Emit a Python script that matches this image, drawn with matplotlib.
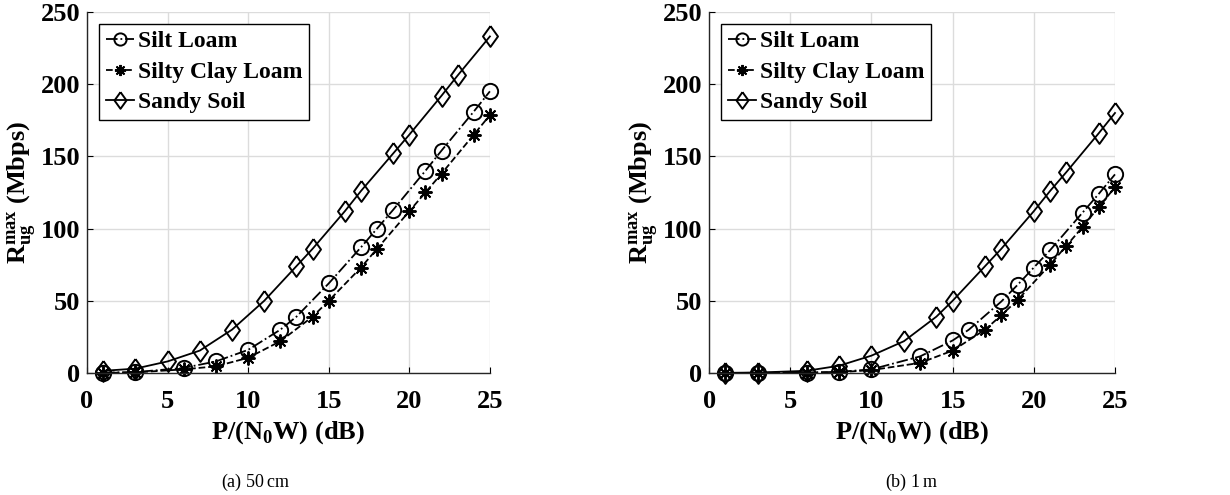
import matplotlib
matplotlib.use("Agg")
import matplotlib.pyplot as plt

plt.rcParams["font.family"] = ["Liberation Serif", "DejaVu Serif"]
plt.rcParams["mathtext.fontset"] = "custom"
plt.rcParams["mathtext.rm"] = "Liberation Serif"
plt.rcParams["mathtext.bf"] = "Liberation Serif:bold"

# (a) 50 cm
silt_x_a = [1, 3, 6, 8, 10, 12, 13, 15, 17, 18, 19, 21, 22, 24, 25]
silt_y_a = [0.2, 0.6, 3.5, 8, 16, 30, 39, 62, 87, 100, 113, 140, 154, 181, 195]
clay_x_a = [1, 3, 6, 8, 10, 12, 14, 15, 17, 18, 20, 21, 22, 24, 25]
clay_y_a = [0.1, 0.4, 2.5, 4.6, 10.5, 22, 39, 50, 73, 86, 112, 125, 138, 165, 178.5]
sand_x_a = [1, 3, 5, 7, 9, 11, 13, 14, 16, 17, 19, 20, 22, 23, 25]
sand_y_a = [1.5, 3, 8, 15.5, 30, 50, 74, 86, 112, 126, 152, 165, 192, 206, 233]

# (b) 1 m
silt_x_b = [1, 3, 6, 8, 10, 13, 15, 16, 18, 19, 20, 21, 23, 24, 25]
silt_y_b = [0, 0.1, 0.3, 0.8, 2.5, 11.5, 22.5, 30, 49.5, 61, 73, 85, 111, 124, 137.5]
clay_x_b = [1, 3, 6, 8, 10, 13, 15, 17, 18, 19, 21, 22, 23, 24, 25]
clay_y_b = [0, 0.1, 0.2, 0.5, 2, 7, 15.5, 30, 40, 50.5, 75, 88, 101, 115, 128.5]
sand_x_b = [1, 3, 6, 8, 10, 12, 14, 15, 17, 18, 20, 21, 22, 24, 25]
sand_y_b = [0.1, 0.3, 1.5, 5, 12, 22, 39, 50, 74, 86, 112, 126, 139, 166, 180]

LABELS = ["Silt Loam", "Silty Clay Loam", "Sandy Soil"]
CAPTIONS = ["(a) 50$\\,$cm", "(b) 1$\\,$m"]

DIAMOND = [(0, 1), (0.72, 0), (0, -1), (-0.72, 0), (0, 1)]

fig = plt.figure(figsize=(12.3, 4.95), dpi=100)
ax_a = fig.add_axes([0.0707, 0.2465, 0.3276, 0.7295])
ax_b = fig.add_axes([0.5765, 0.2465, 0.3300, 0.7295])

panels = [
    (ax_a, [(silt_x_a, silt_y_a), (clay_x_a, clay_y_a), (sand_x_a, sand_y_a)]),
    (ax_b, [(silt_x_b, silt_y_b), (clay_x_b, clay_y_b), (sand_x_b, sand_y_b)]),
]
styles = [
    dict(ls="-.", marker="o", mfc="none", ms=11),
    dict(ls="--", marker=(8, 2, 0), mfc="k", ms=10),
    dict(ls="-", marker=DIAMOND, mfc="none", ms=15),
]

for i, (ax, series) in enumerate(panels):
    for (x, y), st, lab in zip(series, styles, LABELS):
        kw = dict(st)
        ax.plot(x, y, color="k", lw=1.3, mec="k", mew=1.4, label=lab,
                ls=kw.pop("ls"), marker=kw.pop("marker"), clip_on=False, **kw)
    ax.set_xlim(0, 25)
    ax.set_ylim(0, 250)
    ax.set_xticks([0, 5, 10, 15, 20, 25])
    ax.set_yticks([0, 50, 100, 150, 200, 250])
    ax.grid(color="#dcdcdc", lw=1.0)
    ax.set_axisbelow(True)
    for s in ("top", "right"):
        ax.spines[s].set_visible(False)
    for s in ("left", "bottom"):
        ax.spines[s].set_color("#262626")
        ax.spines[s].set_linewidth(1.0)
    ax.tick_params(direction="in", length=4, labelsize=19)
    ax.tick_params(axis="x", pad=12)
    ax.tick_params(axis="y", pad=5)
    for t in ax.get_xticklabels() + ax.get_yticklabels():
        t.set_fontweight("bold")
    ax.set_xlabel(r"P/(N$_\mathbf{0}$W) (dB)", fontsize=19, fontweight="bold", labelpad=5)
    ax.set_ylabel(r"$\mathbf{R_{ug}^{max}}$ (Mbps)", fontsize=19, fontweight="bold", labelpad=2)
    leg = ax.legend(loc="upper left", prop={"weight": "bold", "size": 17},
                    handlelength=1.2, handletextpad=0.15, borderpad=0.3,
                    labelspacing=0.38, fancybox=False, edgecolor="k",
                    framealpha=1, borderaxespad=0.5, markerscale=0.8)
    leg.get_frame().set_linewidth(1.0)

fig.text(0.2075, 0.026, CAPTIONS[0], ha="center", va="center", fontsize=13)
fig.text(0.741, 0.026, CAPTIONS[1], ha="center", va="center", fontsize=13)

fig.savefig("out.png", dpi=100)
